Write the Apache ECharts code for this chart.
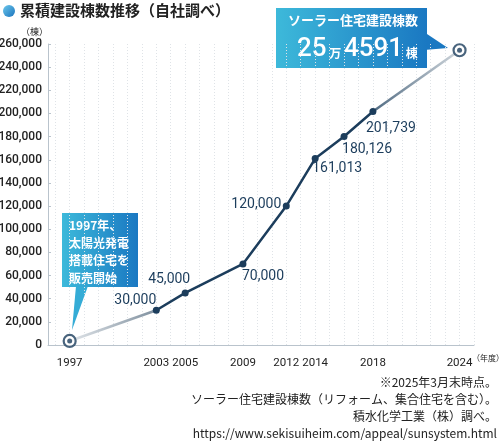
<!DOCTYPE html>
<html>
<head>
<meta charset="utf-8">
<title>累積建設棟数推移</title>
<script src="https://cdn.jsdelivr.net/npm/echarts@6/dist/echarts.min.js"></script>
<style>
  html, body { margin: 0; padding: 0; background: #fff; }
  #chart { width: 504px; height: 444px; }
</style>
</head>
<body>
<div id="chart"></div>
<script>
// data
var years = [1997, 2003, 2005, 2009, 2012, 2014, 2016, 2018, 2024];
var counts = [3500, 30000, 45000, 70000, 120000, 161013, 180126, 201739, 254591];
var xTickYears = [1997, 2003, 2005, 2009, 2012, 2014, 2018, 2024];
var yTicks = [0, 20000, 40000, 60000, 80000, 100000, 120000, 140000, 160000, 180000, 200000, 220000, 240000, 260000];
var notes = [
    '※2025年3月末時点。',
    'ソーラー住宅建設棟数（リフォーム、集合住宅を含む）。',
    '積水化学工業（株）調べ。',
    'https://www.sekisuiheim.com/appeal/sunsystem.html'
];

// one faint grid line per year
var gridYears = [];
for (var y = 1996; y <= 2025; y++) gridYears.push(y);

var navy = '#1c3d5c';
var jp = '"Noto Sans CJK JP", sans-serif';
var num = 'Roboto, "Noto Sans", sans-serif';

// label offsets for the labelled points (2003 .. 2018)
var labelOffsets = [[-21, -10], [-16, -13], [20, 13], [-30, -2], [22, 10], [23, 13], [18, 17]];

function pairs(from, to) {
    var out = [];
    for (var i = from; i <= to; i++) out.push([years[i], counts[i]]);
    return out;
}

var mid = pairs(1, 7).map(function (p, i) {
    return {
        value: p,
        label: {
            show: true, position: 'inside', offset: labelOffsets[i],
            formatter: function (d) { return d.value[1].toLocaleString('en-US'); },
            color: navy, fontSize: 14, fontFamily: num
        }
    };
});

var ends = [[years[0], counts[0]], [years[8], counts[8]]];

var chart = echarts.init(document.getElementById('chart'), null, { renderer: 'canvas' });

var blueGrad = new echarts.graphic.LinearGradient(0, 0, 1, 0, [
    { offset: 0, color: '#3db9da' }, { offset: 1, color: '#1a78c2' }
]);

var noteGraphics = notes.map(function (t, i) {
    return { type: 'text', right: 7, top: 376 + i * 17, style: {
        text: t, fill: '#222', font: '12px "Noto Sans CJK JP", sans-serif' } };
});

chart.setOption({
    animation: false,
    grid: { left: 48, right: 30, top: 44, bottom: 99, containLabel: false, outerBoundsMode: 'none' },
    xAxis: {
        type: 'value', min: 1995.5, max: 2025,
        offset: 7,
        axisLine: { show: true, lineStyle: { color: '#b9c3cc', width: 1 } },
        axisTick: { show: false, customValues: gridYears },
        splitLine: { show: true, lineStyle: { color: '#dfe3e7', type: [1, 2], width: 1 } },
        axisLabel: {
            margin: 5, color: '#222', fontSize: 11.5, fontFamily: num,
            customValues: xTickYears,
            formatter: function (v) { return String(v); }
        }
    },
    yAxis: {
        type: 'value', min: 0, max: 260000, interval: 20000,
        axisLine: { show: true, lineStyle: { color: '#b9c3cc', width: 1 } },
        axisTick: { show: true, inside: true, length: 3, lineStyle: { color: '#b9c3cc' } },
        splitLine: { show: false },
        axisLabel: {
            margin: 6, color: '#222', fontSize: 12, fontFamily: num, fontWeight: 500,
            formatter: function (v) { return yTicks.indexOf(v) >= 0 ? v.toLocaleString('en-US') : ''; }
        },
        name: '（棟）', nameGap: 8, nameLocation: 'end',
        nameTextStyle: { color: '#222', fontSize: 9, fontFamily: jp, align: 'right', padding: [0, 0, 0, 0] }
    },
    series: [
        {
            type: 'line', data: pairs(0, 1), symbol: 'none', z: 2,
            lineStyle: {
                width: 2.5,
                color: new echarts.graphic.LinearGradient(0, 0, 1, 0, [
                    { offset: 0, color: '#e3e7eb' }, { offset: 1, color: '#7d8e9d' }
                ])
            }
        },
        {
            type: 'line', data: pairs(7, 8), symbol: 'none', z: 2,
            lineStyle: {
                width: 2.5,
                color: new echarts.graphic.LinearGradient(0, 0, 1, 0, [
                    { offset: 0, color: '#4d6880' }, { offset: 1, color: '#d3d9de' }
                ])
            }
        },
        {
            type: 'line', data: mid, z: 3,
            symbol: 'circle', symbolSize: 7,
            itemStyle: { color: navy },
            lineStyle: { width: 2.5, color: navy }
        },
        {
            type: 'scatter', data: ends, z: 4, symbolSize: 12,
            itemStyle: { color: '#fff', borderColor: navy, borderWidth: 2.2 }
        },
        {
            type: 'scatter', data: ends, z: 5, symbolSize: 5,
            itemStyle: { color: navy }
        }
    ],
    graphic: [
        // title
        { type: 'circle', shape: { cx: 9, cy: 11, r: 6 }, style: {
            fill: new echarts.graphic.LinearGradient(0, 0, 1, 1, [
                { offset: 0, color: '#6cc8ec' }, { offset: 1, color: '#1b73bd' }
            ]) } },
        { type: 'text', left: 20, top: 3, style: {
            text: '累積建設棟数推移（自社調べ）', fill: '#222',
            font: 'bold 15px "Noto Sans CJK JP", sans-serif' } },

        // x axis unit
        { type: 'text', left: 472, top: 354, style: {
            text: '（年度）', fill: '#222', font: '8px "Noto Sans CJK JP", sans-serif' } },

        // 1997 callout
        { type: 'polygon', shape: { points: [[76, 286], [88, 286], [72, 330]] }, style: { fill: '#35acd6' } },
        { type: 'rect', shape: { x: 62, y: 213, width: 76, height: 74 }, style: { fill: blueGrad } },
        { type: 'text', left: 69, top: 217, style: {
            text: '1997年、\n太陽光発電\n搭載住宅を\n販売開始', fill: '#fff', lineHeight: 17.5,
            font: 'bold 12px "Noto Sans CJK JP", sans-serif' } },

        // 2024 callout
        { type: 'polygon', shape: { points: [[424, 32], [424, 50], [448, 48]] }, style: { fill: '#1a78c2' } },
        { type: 'rect', shape: { x: 276, y: 8, width: 151, height: 60 }, style: { fill: blueGrad } },
        { type: 'text', left: 288, top: 14, style: {
            text: 'ソーラー住宅建設棟数', fill: '#fff',
            font: 'bold 13px "Noto Sans CJK JP", sans-serif' } },
        { type: 'text', left: 297, top: 36, style: {
            text: '{b|25}{s| 万 }{b|4591}{s| 棟}', fill: '#fff',
            rich: {
                b: { fontSize: 26, fontFamily: num, fontWeight: 500, color: '#fff', verticalAlign: 'bottom' },
                s: { fontSize: 12, fontFamily: jp, fontWeight: 'bold', color: '#fff', verticalAlign: 'bottom', padding: [0, 0, 3, 0] }
            } } }
    ].concat(noteGraphics)
});
</script>
</body>
</html>
